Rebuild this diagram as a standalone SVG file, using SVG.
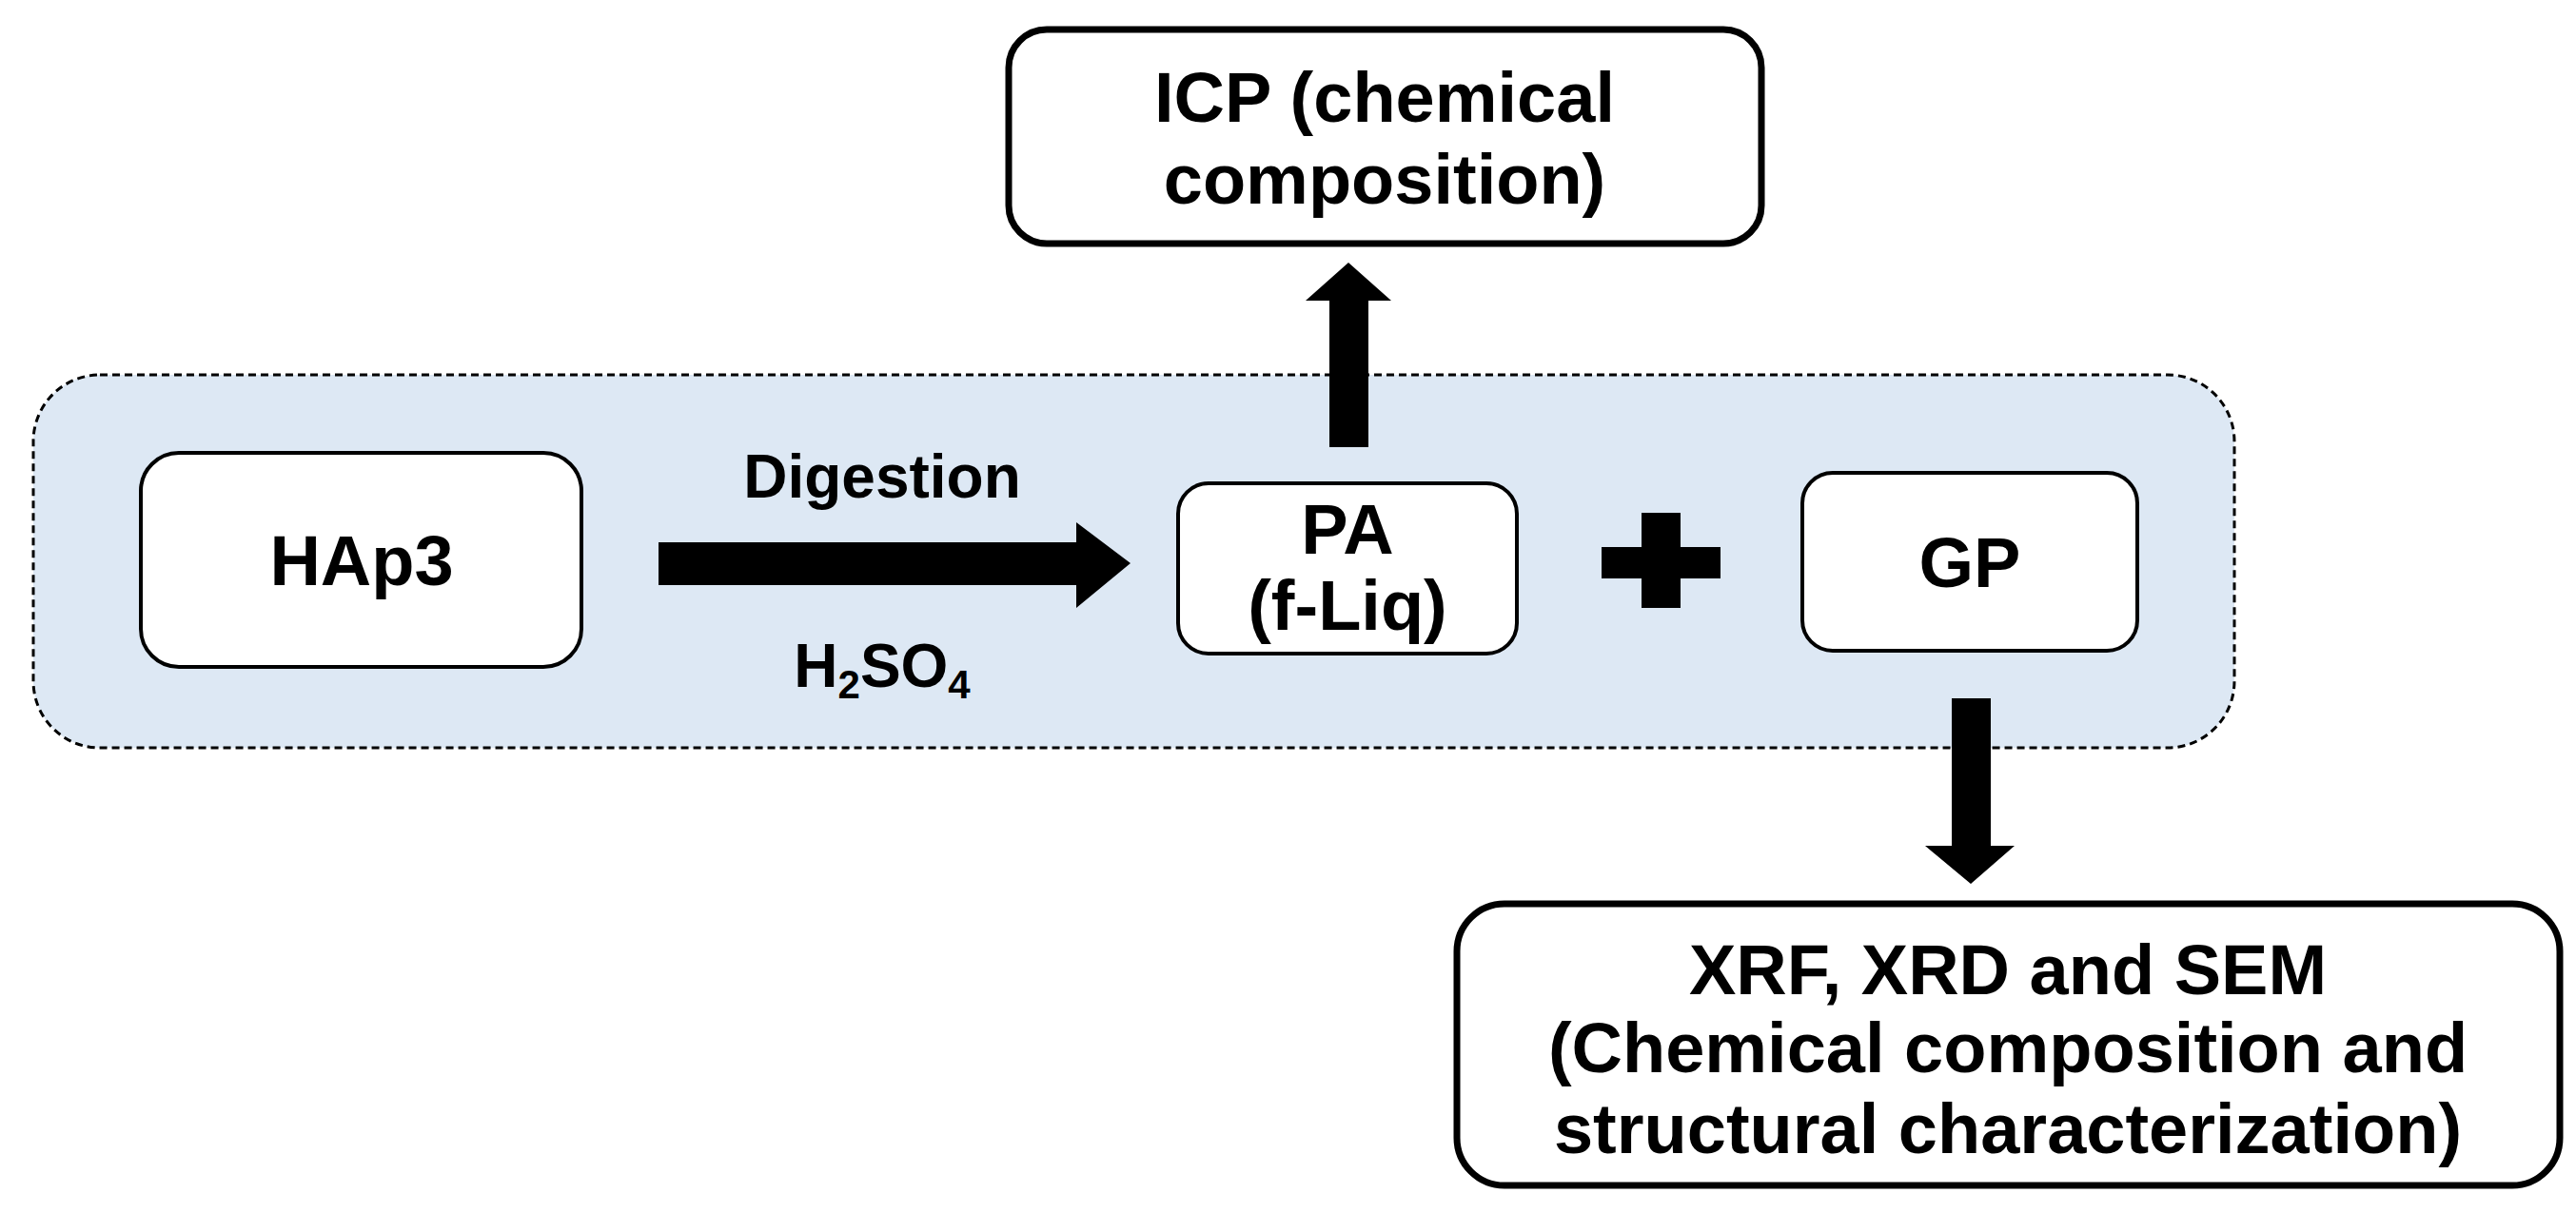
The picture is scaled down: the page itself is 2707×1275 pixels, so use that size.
<svg xmlns="http://www.w3.org/2000/svg" width="2707" height="1275" viewBox="0 0 2707 1275">
<style>
.box{fill:#fff;stroke:#000;stroke-width:4}
.big{fill:#fff;stroke:#000;stroke-width:7}
.t{font-family:"Liberation Sans",Arial,sans-serif;font-weight:bold;font-size:74px;text-anchor:middle;fill:#000}
.s{font-size:64px}
</style>
<rect width="2707" height="1275" fill="#fff"/>
<g id="group"><rect x="35" y="394" width="2313" height="392" rx="70" fill="#dde8f4" stroke="#000" stroke-width="3" stroke-dasharray="8,5"/></g>
<g id="icp"><rect class="big" x="1060" y="31" width="791" height="225" rx="40"/>
<text class="t" x="1455" y="128">ICP (chemical</text><text class="t" x="1455" y="214">composition)</text></g>
<g id="hap3"><rect class="box" x="148" y="476" width="463" height="225" rx="40"/><text class="t" x="380" y="615">HAp3</text></g>
<g id="pa"><rect class="box" x="1238" y="508" width="356" height="179" rx="32"/><text class="t" x="1416" y="582" font-size="70">PA</text><text class="t" x="1416" y="662" font-size="70">(f-Liq)</text></g>
<g id="gp"><rect class="box" x="1894" y="497" width="352" height="187" rx="32"/><text class="t" x="2070" y="617">GP</text></g>
<g id="xrf"><rect class="big" x="1531" y="950" width="1159" height="296" rx="50"/>
<text class="t" x="2110" y="1045">XRF, XRD and SEM</text><text class="t" x="2110" y="1127">(Chemical composition and</text><text class="t" x="2110" y="1212">structural characterization)</text></g>
<g id="connectors">
<polygon points="692,570 1131,570 1131,549 1188,592 1131,639 1131,615 692,615"/>
<text class="t s" x="927" y="523">Digestion</text>
<text class="t s" x="927" y="722">H<tspan font-size="42" dy="12">2</tspan><tspan dy="-12">SO</tspan><tspan font-size="42" dy="12">4</tspan></text>
<polygon points="1397,470 1397,316 1372,316 1417,276 1462,316 1438,316 1438,470"/>
<polygon points="2051,734 2092,734 2092,889 2117,889 2071,929 2023,889 2051,889"/>
<polygon id="plus" points="1725,539 1766,539 1766,575 1808,575 1808,608 1766,608 1766,639 1725,639 1725,608 1683,608 1683,575 1725,575"/>
</g>
</svg>
